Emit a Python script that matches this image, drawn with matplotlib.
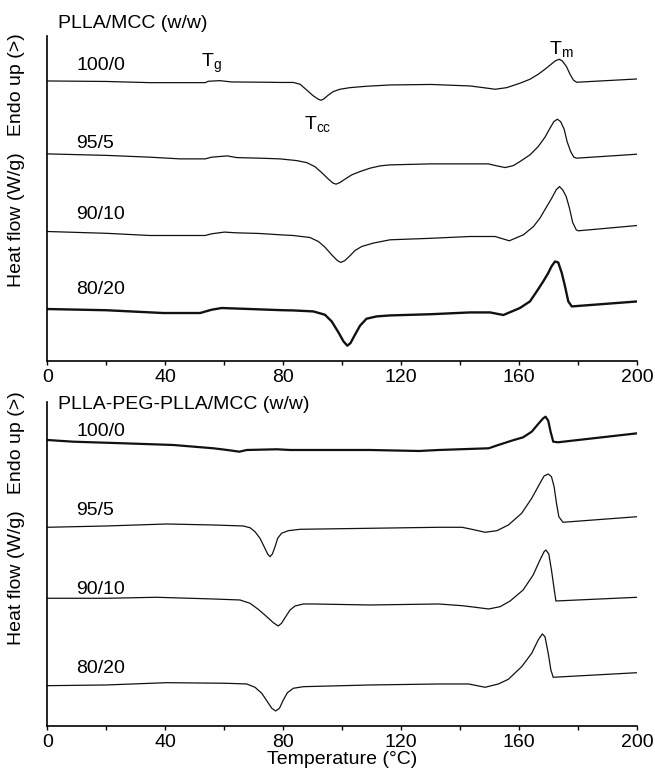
import numpy as np
import matplotlib
matplotlib.use("Agg")
import matplotlib.pyplot as plt

plt.rcParams['font.family'] = ['Liberation Sans', 'DejaVu Sans']
plt.rcParams['mathtext.fontset'] = 'custom'
plt.rcParams['mathtext.rm'] = 'Liberation Sans'

# ---- top panel: PLLA/MCC (w/w), heat flow in arbitrary offset units ----
plla_labels = ['100/0', '95/5', '90/10', '80/20']

plla_t1 = [0, 20, 34.8, 53.5, 54.6, 58.5, 62.5, 74.9, 78.9, 83.4,
           85.7, 87.9, 90.2, 91.9, 92.7, 93.6, 95.3, 96.9, 99.2, 102.6,
           108.2, 116.2, 130, 143.3, 147.8, 151.8, 155.7, 160.2, 163.6, 166.4,
           168.7, 170.9, 172.3, 173.6, 174.6, 176, 177.2, 178.3, 179.4, 200]
plla_h1 = [2.80, 2.795, 2.783, 2.783, 2.797, 2.803, 2.79, 2.787, 2.785, 2.785,
           2.767, 2.71, 2.65, 2.617, 2.607, 2.617, 2.66, 2.693, 2.717, 2.733,
           2.747, 2.76, 2.765, 2.75, 2.733, 2.717, 2.733, 2.777, 2.817, 2.867,
           2.917, 2.97, 3.003, 3.017, 3.0, 2.943, 2.867, 2.81, 2.787, 2.82]

plla_t2 = [0, 20, 34.8, 45, 53.5, 55.7, 61, 64.2, 72.1, 78.9,
           84.5, 87.9, 90.7, 93, 95.3, 96.9, 97.9, 99.2, 100.9, 103.2,
           106, 109.4, 112.8, 116.2, 130, 143.3, 149.5, 152.4, 155.2, 158,
           160.2, 163.6, 166.4, 168.7, 170.4, 171.7, 172.9, 174, 175.2, 176.2,
           177.4, 178.5, 179.4, 200]
plla_h2 = [2.07, 2.055, 2.037, 2.02, 2.02, 2.037, 2.05, 2.033, 2.027, 2.02,
           2.003, 1.983, 1.943, 1.883, 1.817, 1.777, 1.767, 1.783, 1.817, 1.86,
           1.893, 1.927, 1.95, 1.96, 1.97, 1.97, 1.97, 1.95, 1.933, 1.953,
           1.993, 2.06, 2.143, 2.237, 2.327, 2.393, 2.417, 2.393, 2.317, 2.193,
           2.093, 2.037, 2.027, 2.067]

plla_t3 = [0, 20, 34.8, 53.5, 55.7, 60, 64, 72.1, 78.9, 83.4,
           89, 91.9, 94.1, 96.4, 98.3, 99.5, 100.9, 102.6, 104.3, 106.6,
           110.5, 116.2, 130, 143.3, 151.8, 156.6, 161.4, 164.8, 167, 169.3,
           171, 172.5, 173.6, 174.7, 175.9, 177, 178.1, 179.3, 180, 200]
plla_h3 = [1.293, 1.275, 1.253, 1.253, 1.27, 1.287, 1.28, 1.273, 1.26, 1.253,
           1.233, 1.193, 1.137, 1.06, 1.003, 0.983, 1.003, 1.05, 1.103, 1.143,
           1.177, 1.21, 1.225, 1.243, 1.243, 1.20, 1.26, 1.343, 1.427, 1.543,
           1.627, 1.71, 1.743, 1.71, 1.643, 1.527, 1.383, 1.31, 1.30, 1.353]

plla_t4 = [0, 20, 39.3, 51.8, 55.7, 59.1, 65.9, 80, 83.4, 90.2,
           94.1, 96.4, 98.7, 100.4, 101.7, 102.8, 104.3, 106, 108.2, 111.6,
           116.2, 130, 143.3, 150.1, 154.6, 160.2, 163.6, 165.9, 168.1, 169.8,
           170.9, 172.1, 173.2, 174.4, 175.5, 176.6, 177.8, 200]
plla_h4 = [0.517, 0.505, 0.477, 0.477, 0.51, 0.527, 0.52, 0.505, 0.503, 0.493,
           0.46, 0.393, 0.283, 0.193, 0.15, 0.177, 0.26, 0.35, 0.42, 0.443,
           0.453, 0.465, 0.483, 0.483, 0.457, 0.527, 0.593, 0.693, 0.793, 0.877,
           0.943, 0.993, 0.983, 0.877, 0.743, 0.593, 0.543, 0.593]

# ---- bottom panel: PLLA-PEG-PLLA/MCC (w/w) ----
peg_labels = ['100/0', '95/5', '90/10', '80/20']

peg_t1 = [0, 8.8, 25.8, 42.7, 56.3, 61, 65.1, 67.6, 77.8, 82.3,
          109.4, 126, 132.7, 149.6, 152.9, 157.4, 161.3, 164.2, 166.4, 168.1,
          168.9, 169.8, 170.6, 171.5, 173.1, 200]
peg_h1 = [2.86, 2.843, 2.827, 2.81, 2.777, 2.76, 2.743, 2.76, 2.767, 2.76,
          2.76, 2.75, 2.76, 2.777, 2.81, 2.853, 2.887, 2.943, 3.02, 3.077,
          3.093, 3.053, 2.943, 2.843, 2.837, 2.927]

peg_t2 = [0, 20, 40.5, 56.3, 66.4, 68.7, 70.4, 72.1, 73.5, 74.7,
          75.5, 76.3, 77.2, 78.1, 79.4, 81.7, 85.7, 109.4, 132.7, 140.6,
          143.9, 148.4, 152.4, 156.3, 160.8, 164.2, 167, 168.4, 169.8, 170.9,
          171.8, 172.6, 173.4, 174.8, 200]
peg_h2 = [1.987, 2.00, 2.02, 2.01, 2.00, 1.983, 1.943, 1.877, 1.793, 1.72,
          1.693, 1.72, 1.793, 1.877, 1.927, 1.953, 1.967, 1.977, 1.987, 1.987,
          1.967, 1.937, 1.953, 2.01, 2.127, 2.277, 2.427, 2.5, 2.52, 2.493,
          2.393, 2.227, 2.093, 2.037, 2.093]

peg_t3 = [0, 20, 37, 56.3, 65.3, 68.7, 71.5, 74.4, 76.6, 78.3,
          79.4, 80.8, 82.3, 84, 86.8, 90.2, 109.4, 132.7, 140.6, 145.1,
          149.6, 153.5, 156.9, 161.3, 164.7, 167, 168.4, 169, 170, 170.9,
          171.7, 172.4, 200]
peg_h3 = [1.277, 1.277, 1.287, 1.27, 1.26, 1.227, 1.167, 1.093, 1.033, 1.0,
          1.027, 1.093, 1.16, 1.2, 1.22, 1.22, 1.21, 1.22, 1.203, 1.187,
          1.17, 1.193, 1.25, 1.36, 1.51, 1.66, 1.743, 1.76, 1.72, 1.56,
          1.393, 1.25, 1.287]

peg_t4 = [0, 20, 40.5, 60.7, 67.6, 70.4, 72.7, 74.6, 76.1, 77.4,
          78.7, 80, 81.4, 83.4, 86.8, 109.4, 132.7, 142.8, 148.4, 152.9,
          156.3, 160.8, 164.2, 166.4, 167.8, 168.7, 169.8, 170.7, 171.5, 200]
peg_h4 = [0.403, 0.41, 0.433, 0.427, 0.42, 0.387, 0.327, 0.243, 0.177, 0.15,
          0.177, 0.26, 0.333, 0.377, 0.393, 0.41, 0.42, 0.42, 0.387, 0.42,
          0.467, 0.593, 0.727, 0.86, 0.92, 0.893, 0.727, 0.56, 0.487, 0.533]

xticks = [0, 40, 80, 120, 160, 200]


def style_axes(ax, top):
    ax.set_xlim(0, 200)
    ax.set_ylim(0, top)
    ax.spines['top'].set_visible(False)
    ax.spines['right'].set_visible(False)
    ax.spines['left'].set_linewidth(1.2)
    ax.spines['bottom'].set_linewidth(1.2)
    ax.set_yticks([])
    ax.set_xticks(xticks)
    ax.set_xticks([20, 60, 100, 140, 180], minor=True)
    ax.tick_params(axis='x', which='both', direction='out', length=3, width=1,
                   labelsize=14, pad=3)


fig = plt.figure(figsize=(6.55, 7.71), dpi=100)
ax1 = fig.add_axes([0.0722, 0.5322, 0.9008, 0.4211])
ax2 = fig.add_axes([0.0722, 0.0584, 0.9008, 0.4206])

c = '#111111'
lws = [0.9, 0.9, 0.9, 1.7]
for t, h, lw in zip([plla_t1, plla_t2, plla_t3, plla_t4],
                    [plla_h1, plla_h2, plla_h3, plla_h4], lws):
    ax1.plot(t, h, color=c, lw=lw, solid_joinstyle='round')
style_axes(ax1, 3.25)

lws = [1.6, 0.9, 0.9, 0.9]
for t, h, lw in zip([peg_t1, peg_t2, peg_t3, peg_t4],
                    [peg_h1, peg_h2, peg_h3, peg_h4], lws):
    ax2.plot(t, h, color=c, lw=lw, solid_joinstyle='round')
style_axes(ax2, 3.243)

fs = 14
ax1.text(3.6, 3.38, 'PLLA/MCC (w/w)', fontsize=fs, va='center', clip_on=False)
for lab, yy in zip(plla_labels, [2.95, 2.177, 1.46, 0.71]):
    ax1.text(9.8, yy, lab, fontsize=fs, va='center')
ax1.text(52, 2.98, r'T$_\mathrm{g}$', fontsize=fs, va='center')
ax1.text(87, 2.36, r'T$_\mathrm{cc}$', fontsize=fs, va='center')
ax1.text(170, 3.11, r'T$_\mathrm{m}$', fontsize=fs, va='center')

ax2.text(3.6, 3.21, 'PLLA-PEG-PLLA/MCC (w/w)', fontsize=fs, va='center', clip_on=False)
for lab, yy in zip(peg_labels, [2.943, 2.15, 1.367, 0.577]):
    ax2.text(9.8, yy, lab, fontsize=fs, va='center')
ax2.set_xlabel('Temperature (\u00b0C)', fontsize=fs, labelpad=0)

ylab = 'Heat flow (W/g)   Endo up (>)'
fig.text(17 / 655, 1 - 160 / 771, ylab, rotation=90, fontsize=fs, ha='center', va='center')
fig.text(17 / 655, 1 - 518 / 771, ylab, rotation=90, fontsize=fs, ha='center', va='center')

fig.savefig('out.png', dpi=100)
